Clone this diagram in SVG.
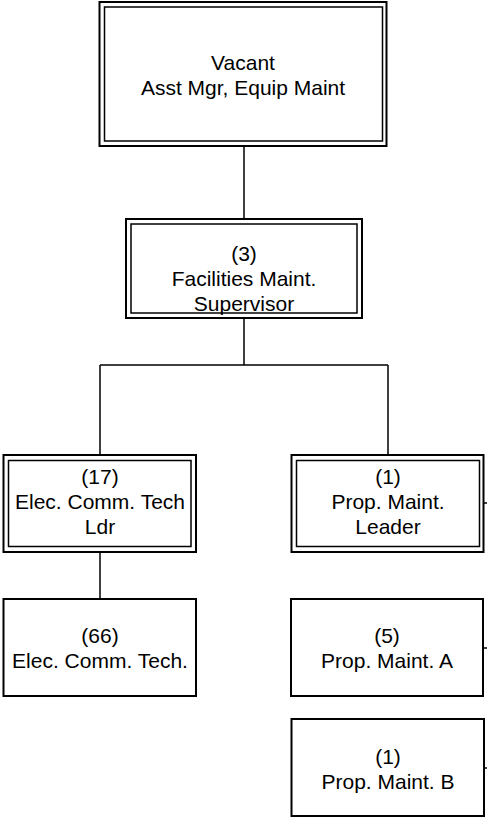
<svg xmlns="http://www.w3.org/2000/svg" width="487" height="817" viewBox="0 0 487 817">
<style>
.o{fill:none;stroke:#000;stroke-width:2}
.i{fill:none;stroke:#000;stroke-width:1.5}
.s{fill:#fff;stroke:#000;stroke-width:2}
.c{fill:none;stroke:#000;stroke-width:1.5}
text{font-family:"Liberation Sans",Arial,sans-serif;font-size:21px;fill:#000;text-anchor:middle}
</style>
<rect width="487" height="817" fill="#fff"/>
<g id="connectors">
<path class="c" d="M244 146V219"/>
<path class="c" d="M244 318V365M100 365H388M100 365V455M388 365V455"/>
<path class="c" d="M100 552V599"/>
<path class="c" d="M483 503H487M483 648H487M484 768H487"/>
</g>
<g id="n1">
<rect class="o" x="99.5" y="2" width="287" height="144"/>
<rect class="i" x="104.5" y="7" width="278" height="134"/>
<text x="243" y="70">Vacant</text>
<text x="243" y="95">Asst Mgr, Equip Maint</text>
</g>
<g id="n2">
<rect class="o" x="126" y="219" width="236" height="99"/>
<rect class="i" x="131" y="224" width="226" height="89"/>
<text x="244" y="261">(3)</text>
<text x="244" y="286">Facilities Maint.</text>
<text x="244" y="311">Supervisor</text>
</g>
<g id="n3">
<rect class="o" x="3.5" y="455" width="192.5" height="97"/>
<rect class="i" x="8.5" y="460.5" width="182.5" height="86"/>
<text x="100" y="484">(17)</text>
<text x="100" y="509">Elec. Comm. Tech</text>
<text x="100" y="534">Ldr</text>
</g>
<g id="n4">
<rect class="o" x="291.5" y="455" width="192" height="97"/>
<rect class="i" x="296.5" y="460.5" width="183" height="86"/>
<text x="388" y="484">(1)</text>
<text x="388" y="509">Prop. Maint.</text>
<text x="388" y="534">Leader</text>
</g>
<g id="n5">
<rect class="s" x="3.5" y="599" width="192.5" height="97"/>
<text x="100" y="643">(66)</text>
<text x="100" y="668">Elec. Comm. Tech.</text>
</g>
<g id="n6">
<rect class="s" x="291" y="599" width="192" height="97"/>
<text x="387" y="643">(5)</text>
<text x="387" y="668">Prop. Maint. A</text>
</g>
<g id="n7">
<rect class="s" x="291.5" y="719" width="192.5" height="97"/>
<text x="388" y="764">(1)</text>
<text x="388" y="789">Prop. Maint. B</text>
</g>
</svg>
